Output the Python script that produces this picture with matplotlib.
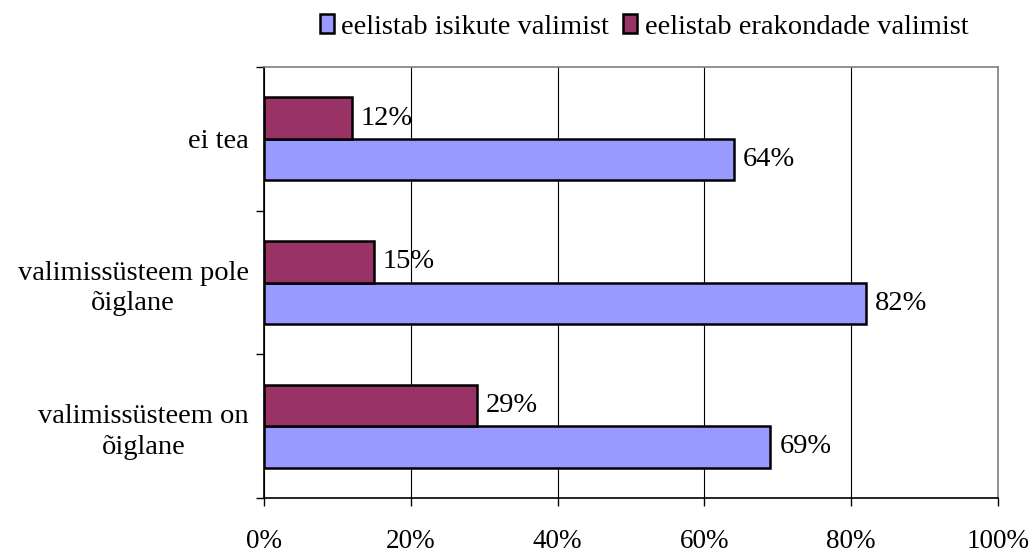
import matplotlib.pyplot as plt
import numpy as np

plt.rcParams['font.family'] = ['Liberation Serif', 'DejaVu Serif']

categories = ['valimissüsteem on\nõiglane', 'valimissüsteem pole\nõiglane', 'ei tea']
isikute = [69, 82, 64]
erakondade = [29, 15, 12]
series_names = ['eelistab isikute valimist', 'eelistab erakondade valimist']

col_isik = '#9999FF'
col_erak = '#993366'

fig = plt.figure(figsize=(10.33, 5.55), dpi=100)
ax = fig.add_axes([264/1033, 1 - 498/555, (998-264)/1033, (498-67)/555])

y = np.arange(len(categories))
h = 0.29

b1 = ax.barh(y - h/2, isikute, height=h, color=col_isik, edgecolor='black', lw=1.8,
             label=series_names[0], zorder=3)
b2 = ax.barh(y + h/2, erakondade, height=h, color=col_erak, edgecolor='black', lw=1.8,
             label=series_names[1], zorder=3)

for bars, vals in [(b1, isikute), (b2, erakondade)]:
    for bar, v in zip(bars, vals):
        ax.text(v + 1.2, bar.get_y() + bar.get_height()/2, '%d%%' % v,
                va='center', ha='left', fontsize=20.5)

ax.set_xlim(0, 100)
ax.set_ylim(-0.5, 2.5)
ax.set_xticks(np.arange(0, 101, 20))
ax.set_xticklabels(['%d%%' % t for t in range(0, 101, 20)], fontsize=19.5)
ax.xaxis.grid(True, color='black', lw=0.8, zorder=0)
ax.tick_params(axis='x', length=6, width=1, pad=16, direction='out')

ax.set_yticks(y)
ax.set_yticklabels(categories, fontsize=20.5, linespacing=1.3, multialignment='center')
ax.set_yticks(np.arange(-0.5, 3, 1), minor=True)
ax.tick_params(axis='y', which='major', length=0, pad=11)
ax.tick_params(axis='y', which='minor', length=6, width=1, direction='out')

ax.spines['left'].set_color('black')
ax.spines['bottom'].set_color('black')
ax.spines['top'].set_color('#808080')
ax.spines['right'].set_color('#808080')
for s in ax.spines.values():
    s.set_linewidth(1.2)

fig.legend(handles=[b1, b2], loc='center', bbox_to_anchor=(644/1033, 1 - 27/555),
           ncol=2, frameon=False, fontsize=20.5, handlelength=0.5, handleheight=0.6,
           handletextpad=0.25, columnspacing=0.5)

fig.savefig('out.png', dpi=100)
